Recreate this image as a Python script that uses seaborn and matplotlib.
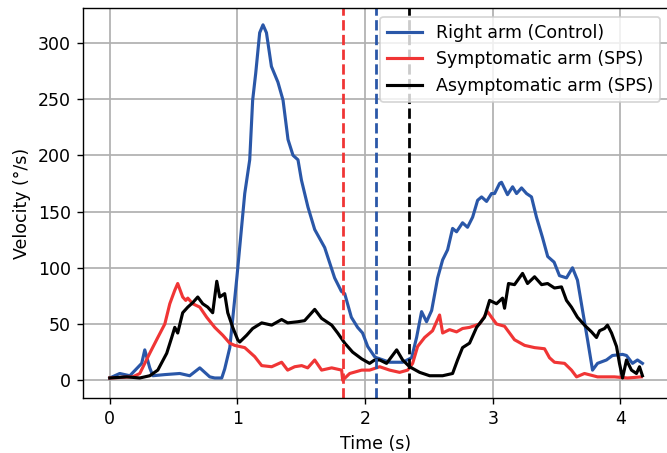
import numpy as np
import pandas as pd
import matplotlib
matplotlib.use("Agg")
import matplotlib.pyplot as plt
import seaborn as sns

# ---------------- data ----------------
ctrl_t = [0.0, 0.078, 0.157, 0.25, 0.274, 0.313, 0.337, 0.43, 0.548, 0.626, 0.705, 0.783, 0.822,
          0.877, 0.90, 0.94, 0.996, 1.057, 1.096, 1.119, 1.143, 1.174, 1.200, 1.227, 1.266, 1.317,
          1.357, 1.396, 1.435, 1.474, 1.501, 1.552, 1.605, 1.683, 1.761, 1.814, 1.840, 1.892, 1.941,
          1.980, 2.020, 2.074, 2.090, 2.192, 2.294, 2.364, 2.403, 2.442, 2.481, 2.521, 2.568, 2.607,
          2.646, 2.685, 2.716, 2.763, 2.802, 2.842, 2.881, 2.912, 2.951, 2.990, 3.014, 3.053, 3.068,
          3.115, 3.155, 3.186, 3.225, 3.264, 3.303, 3.342, 3.389, 3.43, 3.48, 3.522, 3.577, 3.624,
          3.663, 3.703, 3.742, 3.781, 3.820, 3.890, 3.937, 4.016, 4.047, 4.094, 4.133, 4.172]
ctrl_v = [2, 6, 4, 15, 27, 11, 4, 5, 6, 4, 11, 3, 2,
          2, 10, 29, 92, 166, 196, 249, 273, 309, 316, 309, 279, 265,
          249, 214, 200, 196, 178, 154, 134, 118, 91, 79, 77, 56, 47,
          42, 30, 21, 20, 16, 16, 20, 38, 61, 52, 62, 91, 107,
          116, 135, 132, 140, 136, 145, 160, 163, 159, 166, 166, 175, 176,
          165, 172, 166, 171, 166, 163, 145, 127, 110, 105, 93, 91, 100,
          89, 62, 36, 9, 15, 18, 22, 23, 22, 15, 18, 15]

symp_t = [0.0, 0.18, 0.235, 0.313, 0.376, 0.431, 0.47, 0.509, 0.532, 0.571, 0.595, 0.611, 0.65,
          0.705, 0.759, 0.822, 0.885, 0.939, 0.978, 1.057, 1.135, 1.19, 1.268, 1.346, 1.393, 1.448,
          1.503, 1.55, 1.605, 1.659, 1.738, 1.816, 1.824, 1.879, 1.973, 2.035, 2.114, 2.192, 2.27,
          2.333, 2.372, 2.411, 2.466, 2.528, 2.583, 2.607, 2.661, 2.716, 2.763, 2.818, 2.896, 2.959,
          2.99, 3.029, 3.092, 3.17, 3.249, 3.327, 3.405, 3.444, 3.483, 3.562, 3.616, 3.656, 3.718,
          3.82, 3.953, 4.055, 4.164]
symp_v = [2, 3, 6, 24, 38, 50, 68, 80, 86, 74, 71, 73, 68,
          65, 56, 47, 40, 33, 31, 29, 21, 13, 12, 16, 9, 12,
          13, 11, 18, 9, 11, 9, 0, 6, 9, 9, 12, 9, 7,
          9, 15, 30, 38, 44, 58, 42, 45, 43, 46, 47, 50, 61,
          56, 50, 48, 36, 31, 29, 28, 20, 16, 15, 9, 3, 6,
          3, 3, 2, 3]

asym_t = [0.0, 0.133, 0.235, 0.313, 0.376, 0.446, 0.485, 0.509, 0.532, 0.571, 0.611, 0.65, 0.689,
          0.728, 0.767, 0.806, 0.838, 0.861, 0.9, 0.924, 0.963, 1.002, 1.018, 1.072, 1.119, 1.19,
          1.268, 1.346, 1.393, 1.472, 1.526, 1.605, 1.659, 1.738, 1.785, 1.84, 1.902, 1.973, 2.035,
          2.074, 2.114, 2.168, 2.247, 2.294, 2.348, 2.427, 2.505, 2.607, 2.685, 2.724, 2.763, 2.818,
          2.873, 2.935, 2.975, 3.029, 3.076, 3.092, 3.123, 3.17, 3.233, 3.272, 3.327, 3.382, 3.429,
          3.483, 3.538, 3.577, 3.616, 3.663, 3.718, 3.773, 3.812, 3.836, 3.875, 3.898, 3.93, 3.969,
          3.992, 4.016, 4.047, 4.086, 4.125, 4.149, 4.172]
asym_v = [2, 3, 2, 4, 9, 24, 38, 47, 42, 60, 65, 69, 74,
          68, 65, 60, 88, 74, 77, 60, 47, 36, 34, 40, 46, 51,
          49, 54, 51, 52, 53, 63, 55, 49, 42, 33, 25, 19, 15,
          18, 18, 15, 27, 18, 12, 7, 4, 4, 6, 18, 29, 33,
          47, 56, 71, 68, 73, 64, 86, 85, 95, 86, 92, 85, 86,
          82, 83, 71, 65, 56, 49, 43, 38, 44, 46, 49, 42, 30,
          15, 2, 18, 9, 6, 12, 4]

series_names = ["Right arm (Control)", "Symptomatic arm (SPS)", "Asymptomatic arm (SPS)"]
end_times = [2.082, 1.824, 2.34]   # dashed vertical markers (blue, red, black)

colors = ["#2a57a8", "#f03535", "#000000"]

df = pd.concat([
    pd.DataFrame({"t": ctrl_t, "v": ctrl_v, "s": series_names[0]}),
    pd.DataFrame({"t": symp_t, "v": symp_v, "s": series_names[1]}),
    pd.DataFrame({"t": asym_t, "v": asym_v, "s": series_names[2]}),
], ignore_index=True)

# ---------------- plot ----------------
plt.rcParams["font.family"] = ["DejaVu Sans"]
plt.rcParams["font.size"] = 10

DPI = 125
fig = plt.figure(figsize=(667 / DPI, 453 / DPI), dpi=DPI)
ax = fig.add_axes([0.1244, 0.1214, 0.8786, 0.861])

sns.lineplot(data=df, x="t", y="v", hue="s", palette=dict(zip(series_names, colors)),
             estimator=None, sort=False, linewidth=1.8, ax=ax, hue_order=series_names)

ax.axvline(end_times[1], color=colors[1], linestyle="--", linewidth=1.6)
ax.axvline(end_times[0], color=colors[0], linestyle="--", linewidth=1.6)
ax.axvline(end_times[2], color=colors[2], linestyle="--", linewidth=1.6)

ax.set_xlim(-0.21, 4.38)
ax.set_ylim(-15.8, 331)
ax.set_xticks([0, 1, 2, 3, 4])
ax.set_yticks([0, 50, 100, 150, 200, 250, 300])
ax.grid(True, color="#b0b0b0", linewidth=1.0)
ax.set_axisbelow(True)
ax.set_xlabel("Time (s)")
ax.set_ylabel("Velocity (°/s)")

leg = ax.legend(loc="upper right", fontsize=10)
for line in leg.get_lines():
    line.set_linewidth(1.8)

fig.savefig("out.png", dpi=DPI)
